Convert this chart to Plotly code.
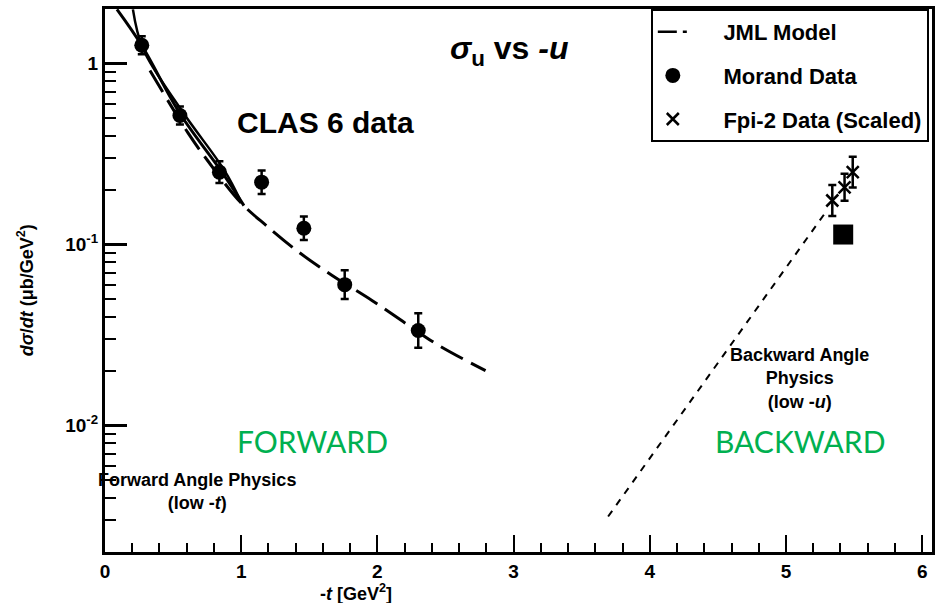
import numpy as np
import plotly.graph_objects as go

# ---------------- data ----------------
morand_t = [0.27, 0.55, 0.84, 1.15, 1.46, 1.76, 2.30]
morand_xs = [1.26, 0.516, 0.251, 0.221, 0.123, 0.060, 0.0335]
morand_err_dex = [0.05, 0.05, 0.06, 0.065, 0.065, 0.08, 0.095]

fpi_t = [5.34, 5.43, 5.49]
fpi_xs = [0.175, 0.207, 0.251]
fpi_err_dex = [0.085, 0.075, 0.085]

square_t = [5.42]
square_xs = [0.1135]

jml_solid_a_t = [0.088, 0.27, 0.55, 0.86, 1.02]
jml_solid_a_xs = [1.99, 1.257, 0.529, 0.25, 0.164]

jml_solid_b_t = [0.205, 0.278, 0.563, 0.878, 0.988]
jml_solid_b_xs = [1.99, 1.21, 0.55, 0.256, 0.179]

jml_dash_t = [0.33, 0.607, 0.753, 0.995, 1.185, 1.426, 1.668, 1.96, 2.209, 2.45, 2.794]
jml_dash_xs = [0.915, 0.416, 0.291, 0.171, 0.127, 0.0903, 0.0675, 0.0491, 0.0366, 0.0277, 0.0201]

back_t = [3.694, 5.289]
back_xs = [0.00314, 0.150]

y_tickvals = [0.01, 0.1, 1]
y_ticktext = ["10<sup>-2</sup>", "10<sup>-1</sup>", "1"]
x_tickvals = [0, 1, 2, 3, 4, 5, 6]

FONT = "Liberation Sans, Arial, sans-serif"
GREEN = "#00B050"
PAD = "\u00a0" * 5


def up_err(vals, dex):
    return [v * (10 ** d - 1) for v, d in zip(vals, dex)]


def dn_err(vals, dex):
    return [v * (1 - 10 ** (-d)) for v, d in zip(vals, dex)]


fig = go.Figure()

# model curves
fig.add_trace(go.Scatter(x=jml_solid_a_t, y=jml_solid_a_xs, mode="lines", line_shape="spline",
                         line=dict(color="black", width=3), showlegend=False, hoverinfo="skip"))
fig.add_trace(go.Scatter(x=jml_solid_b_t, y=jml_solid_b_xs, mode="lines", line_shape="spline",
                         line=dict(color="black", width=2.5), showlegend=False, hoverinfo="skip"))
fig.add_trace(go.Scatter(x=jml_dash_t, y=jml_dash_xs, mode="lines", line_shape="spline",
                         line=dict(color="black", width=3, dash="25px,9px"), showlegend=False))
fig.add_trace(go.Scatter(x=back_t, y=back_xs, mode="lines",
                         line=dict(color="black", width=2, dash="7px,7px"), showlegend=False))

# legend-only entry for model style
fig.add_trace(go.Scatter(x=[None], y=[None], mode="lines", name=PAD + "JML Model", legendgroup="a",
                         line=dict(color="black", width=2.5, dash="19px,6px,4px,60px")))

# Morand data
fig.add_trace(go.Scatter(
    x=morand_t, y=morand_xs, mode="markers", name=PAD + "Morand Data", legendgroup="b",
    marker=dict(symbol="circle", size=15, color="black"),
    error_y=dict(type="data", symmetric=False, array=up_err(morand_xs, morand_err_dex),
                 arrayminus=dn_err(morand_xs, morand_err_dex), color="black", thickness=2.5, width=4)))

# Fpi-2 data
fig.add_trace(go.Scatter(
    x=fpi_t, y=fpi_xs, mode="markers", name=PAD + "Fpi-2 Data (Scaled)", legendgroup="c",
    marker=dict(symbol="x-thin", size=12, color="black", line=dict(color="black", width=2.5)),
    error_y=dict(type="data", symmetric=False, array=up_err(fpi_xs, fpi_err_dex),
                 arrayminus=dn_err(fpi_xs, fpi_err_dex), color="black", thickness=2.5, width=4)))

# square marker
fig.add_trace(go.Scatter(x=square_t, y=square_xs, mode="markers", showlegend=False,
                         marker=dict(symbol="square", size=20, color="black")))

minor_y = [m * 10.0 ** k for k in range(-3, 1) for m in range(2, 10)]

fig.update_xaxes(range=[0, 6.072], tickmode="array", tickvals=x_tickvals,
                 ticks="inside", ticklen=17, tickwidth=2, tickcolor="black",
                 minor=dict(ticks="inside", dtick=0.2, tick0=0, ticklen=9, tickwidth=2, tickcolor="black"),
                 showline=True, linewidth=3, linecolor="black", mirror=True,
                 showgrid=False, zeroline=False,
                 tickfont=dict(family=FONT, size=19, color="black", weight="bold"))
fig.update_yaxes(type="log", range=[np.log10(0.002), np.log10(2)], tickmode="array",
                 tickvals=y_tickvals, ticktext=y_ticktext,
                 ticks="inside", ticklen=22, tickwidth=2.5, tickcolor="black",
                 minor=dict(ticks="inside", tickmode="array", tickvals=minor_y, ticklen=11, tickwidth=2,
                            tickcolor="black"),
                 showline=True, linewidth=3, linecolor="black", mirror=True,
                 showgrid=False, zeroline=False,
                 tickfont=dict(family=FONT, size=19, color="black", weight="bold"))

ann = [
    dict(x=2.97, y=0.072, text="<b><i>σ</i><sub>u</sub> vs <i>-u</i></b>", font=dict(size=32)),
    dict(x=1.617, y=-0.326, text="<b>CLAS 6 data</b>", font=dict(size=30)),
    dict(x=1.52, y=-2.083, text="FORWARD", font=dict(size=30, color=GREEN, family="Lato")),
    dict(x=5.106, y=-2.083, text="BACKWARD", font=dict(size=30, color=GREEN, family="Lato")),
    dict(x=0.673, y=-2.365, text="<b>Forward Angle Physics<br>(low -<i>t</i>)</b>", font=dict(size=18)),
    dict(x=5.1, y=-1.74, text="<b>Backward Angle<br>Physics<br>(low -<i>u</i>)</b>", font=dict(size=18)),
]
for a in ann:
    f = dict(family=FONT, color="black")
    f.update(a.pop("font"))
    fig.add_annotation(xref="x", yref="y", showarrow=False, xanchor="center", yanchor="middle",
                       font=f, **a)

fig.add_annotation(xref="x", yref="paper", x=1.84, y=-0.075, showarrow=False, yanchor="middle",
                   text="<b>-<i>t</i> [GeV<sup>2</sup>]</b>", font=dict(family=FONT, size=18, color="black"))
fig.add_annotation(xref="paper", yref="paper", x=-0.0964, y=0.4825, showarrow=False, textangle=-90,
                   xanchor="center", yanchor="middle",
                   text="<b><i>dσ</i>/<i>dt</i> (μb/GeV<sup>2</sup>)</b>",
                   font=dict(family=FONT, size=18, color="black"))

fig.update_layout(
    width=937, height=603,
    margin=dict(l=105, r=2, t=9, b=51),
    paper_bgcolor="white", plot_bgcolor="white",
    font=dict(family=FONT, color="black"),
    legend=dict(x=0.66, y=1, xanchor="left", yanchor="top", bgcolor="white",
                bordercolor="black", borderwidth=2, tracegroupgap=12,
                font=dict(family=FONT, size=22, color="black", weight="bold")),
)

fig.write_html("out.html")
